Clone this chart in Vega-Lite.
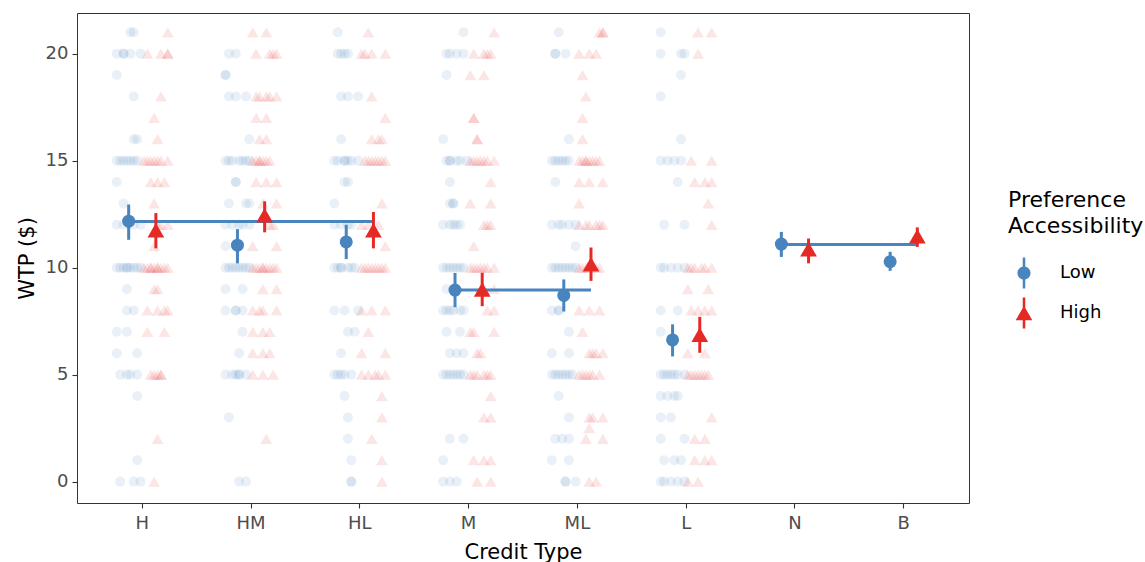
{
"$schema":"https://vega.github.io/schema/vega-lite/v6.json",
"width":892,"height":490,
"autosize":{"type":"none"},
"padding":{"left":77,"top":13,"right":176,"bottom":59},
"background":"white",
"config":{
"font":"DejaVu Sans",
"view":{"stroke":"#333333","strokeWidth":1},
"axis":{"grid":false,"domain":false,"tickColor":"#333333","tickSize":5,"tickWidth":1.1,"labelColor":"#4d4d4d","labelFontSize":18,"labelFont":"DejaVu Sans","titleFont":"DejaVu Sans","titleFontSize":21,"titleColor":"#000000","titleFontWeight":"normal"},
"legend":{"orient":"none","legendX":931,"legendY":177,"padding":0,"titleFont":"DejaVu Sans","titleFontSize":22,"titleFontWeight":"normal","titleColor":"#000000","titleLineHeight":26,"titlePadding":19,"labelFont":"DejaVu Sans","labelFontSize":18,"labelColor":"#000000","labelOffset":20,"symbolSize":1024,"symbolStrokeWidth":0,"symbolOpacity":1,"rowPadding":8}
},
"datasets":{
"raw":[
{"c":"H","p":"Low","w":21,"s":5},{"c":"H","p":"Low","w":21,"s":6},
{"c":"H","p":"Low","w":20,"s":1},{"c":"H","p":"Low","w":20,"s":3},{"c":"H","p":"Low","w":20,"s":3},{"c":"H","p":"Low","w":20,"s":5},{"c":"H","p":"Low","w":20,"s":8},
{"c":"H","p":"Low","w":19,"s":1},
{"c":"H","p":"Low","w":18,"s":6},
{"c":"H","p":"Low","w":16,"s":6},{"c":"H","p":"Low","w":16,"s":7},
{"c":"H","p":"Low","w":15,"s":1},{"c":"H","p":"Low","w":15,"s":2},{"c":"H","p":"Low","w":15,"s":3},{"c":"H","p":"Low","w":15,"s":4},{"c":"H","p":"Low","w":15,"s":5},{"c":"H","p":"Low","w":15,"s":6},{"c":"H","p":"Low","w":15,"s":7},
{"c":"H","p":"Low","w":14,"s":1},
{"c":"H","p":"Low","w":13,"s":3},
{"c":"H","p":"Low","w":12,"s":1},{"c":"H","p":"Low","w":12,"s":3},{"c":"H","p":"Low","w":12,"s":6},{"c":"H","p":"Low","w":12,"s":8},
{"c":"H","p":"Low","w":10,"s":1},{"c":"H","p":"Low","w":10,"s":2},{"c":"H","p":"Low","w":10,"s":3},{"c":"H","p":"Low","w":10,"s":4},{"c":"H","p":"Low","w":10,"s":4},{"c":"H","p":"Low","w":10,"s":5},{"c":"H","p":"Low","w":10,"s":6},{"c":"H","p":"Low","w":10,"s":7},{"c":"H","p":"Low","w":10,"s":8},
{"c":"H","p":"Low","w":9,"s":4},
{"c":"H","p":"Low","w":8,"s":4},{"c":"H","p":"Low","w":8,"s":6},
{"c":"H","p":"Low","w":7,"s":1},{"c":"H","p":"Low","w":7,"s":4},
{"c":"H","p":"Low","w":6,"s":1},{"c":"H","p":"Low","w":6,"s":7},
{"c":"H","p":"Low","w":5,"s":2},{"c":"H","p":"Low","w":5,"s":4},{"c":"H","p":"Low","w":5,"s":5},{"c":"H","p":"Low","w":5,"s":7},
{"c":"H","p":"Low","w":4,"s":7},
{"c":"H","p":"Low","w":1,"s":7},
{"c":"H","p":"Low","w":0,"s":2},{"c":"H","p":"Low","w":0,"s":6},{"c":"H","p":"Low","w":0,"s":8},
{"c":"H","p":"High","w":21,"s":16},
{"c":"H","p":"High","w":20,"s":10},{"c":"H","p":"High","w":20,"s":14},{"c":"H","p":"High","w":20,"s":16},{"c":"H","p":"High","w":20,"s":16},
{"c":"H","p":"High","w":18,"s":14},
{"c":"H","p":"High","w":17,"s":12},
{"c":"H","p":"High","w":16,"s":13},
{"c":"H","p":"High","w":15,"s":9},{"c":"H","p":"High","w":15,"s":10},{"c":"H","p":"High","w":15,"s":11},{"c":"H","p":"High","w":15,"s":12},{"c":"H","p":"High","w":15,"s":13},{"c":"H","p":"High","w":15,"s":14},{"c":"H","p":"High","w":15,"s":16},
{"c":"H","p":"High","w":14,"s":11},{"c":"H","p":"High","w":14,"s":13},{"c":"H","p":"High","w":14,"s":15},
{"c":"H","p":"High","w":13,"s":12},
{"c":"H","p":"High","w":12,"s":13},{"c":"H","p":"High","w":12,"s":14},{"c":"H","p":"High","w":12,"s":16},
{"c":"H","p":"High","w":11,"s":12},
{"c":"H","p":"High","w":10,"s":9},{"c":"H","p":"High","w":10,"s":10},{"c":"H","p":"High","w":10,"s":11},{"c":"H","p":"High","w":10,"s":11},{"c":"H","p":"High","w":10,"s":12},{"c":"H","p":"High","w":10,"s":13},{"c":"H","p":"High","w":10,"s":13},{"c":"H","p":"High","w":10,"s":14},{"c":"H","p":"High","w":10,"s":15},{"c":"H","p":"High","w":10,"s":16},
{"c":"H","p":"High","w":9,"s":12},{"c":"H","p":"High","w":9,"s":13},
{"c":"H","p":"High","w":8,"s":10},{"c":"H","p":"High","w":8,"s":13},{"c":"H","p":"High","w":8,"s":15},{"c":"H","p":"High","w":8,"s":16},
{"c":"H","p":"High","w":7,"s":10},{"c":"H","p":"High","w":7,"s":15},
{"c":"H","p":"High","w":5,"s":11},{"c":"H","p":"High","w":5,"s":12},{"c":"H","p":"High","w":5,"s":13},{"c":"H","p":"High","w":5,"s":14},{"c":"H","p":"High","w":5,"s":14},
{"c":"H","p":"High","w":2,"s":13},
{"c":"H","p":"High","w":0,"s":12},
{"c":"HM","p":"Low","w":20,"s":2},{"c":"HM","p":"Low","w":20,"s":4},
{"c":"HM","p":"Low","w":19,"s":1},{"c":"HM","p":"Low","w":19,"s":1},
{"c":"HM","p":"Low","w":18,"s":2},{"c":"HM","p":"Low","w":18,"s":4},{"c":"HM","p":"Low","w":18,"s":7},
{"c":"HM","p":"Low","w":16,"s":8},
{"c":"HM","p":"Low","w":15,"s":1},{"c":"HM","p":"Low","w":15,"s":2},{"c":"HM","p":"Low","w":15,"s":3},{"c":"HM","p":"Low","w":15,"s":5},{"c":"HM","p":"Low","w":15,"s":6},{"c":"HM","p":"Low","w":15,"s":7},{"c":"HM","p":"Low","w":15,"s":8},
{"c":"HM","p":"Low","w":14,"s":4},{"c":"HM","p":"Low","w":14,"s":4},
{"c":"HM","p":"Low","w":13,"s":2},{"c":"HM","p":"Low","w":13,"s":7},{"c":"HM","p":"Low","w":13,"s":8},
{"c":"HM","p":"Low","w":12,"s":1},{"c":"HM","p":"Low","w":12,"s":3},{"c":"HM","p":"Low","w":12,"s":5},{"c":"HM","p":"Low","w":12,"s":6},{"c":"HM","p":"Low","w":12,"s":8},
{"c":"HM","p":"Low","w":11,"s":1},
{"c":"HM","p":"Low","w":10,"s":1},{"c":"HM","p":"Low","w":10,"s":2},{"c":"HM","p":"Low","w":10,"s":3},{"c":"HM","p":"Low","w":10,"s":4},{"c":"HM","p":"Low","w":10,"s":5},{"c":"HM","p":"Low","w":10,"s":6},{"c":"HM","p":"Low","w":10,"s":7},{"c":"HM","p":"Low","w":10,"s":8},
{"c":"HM","p":"Low","w":9,"s":1},{"c":"HM","p":"Low","w":9,"s":6},
{"c":"HM","p":"Low","w":8,"s":1},{"c":"HM","p":"Low","w":8,"s":4},{"c":"HM","p":"Low","w":8,"s":4},{"c":"HM","p":"Low","w":8,"s":6},
{"c":"HM","p":"Low","w":7,"s":6},
{"c":"HM","p":"Low","w":6,"s":5},
{"c":"HM","p":"Low","w":5,"s":1},{"c":"HM","p":"Low","w":5,"s":3},{"c":"HM","p":"Low","w":5,"s":4},{"c":"HM","p":"Low","w":5,"s":5},{"c":"HM","p":"Low","w":5,"s":5},{"c":"HM","p":"Low","w":5,"s":7},
{"c":"HM","p":"Low","w":3,"s":2},
{"c":"HM","p":"Low","w":0,"s":5},{"c":"HM","p":"Low","w":0,"s":7},
{"c":"HM","p":"High","w":21,"s":9},{"c":"HM","p":"High","w":21,"s":13},
{"c":"HM","p":"High","w":20,"s":10},{"c":"HM","p":"High","w":20,"s":14},{"c":"HM","p":"High","w":20,"s":15},{"c":"HM","p":"High","w":20,"s":16},
{"c":"HM","p":"High","w":18,"s":10},{"c":"HM","p":"High","w":18,"s":11},{"c":"HM","p":"High","w":18,"s":13},{"c":"HM","p":"High","w":18,"s":14},{"c":"HM","p":"High","w":18,"s":16},
{"c":"HM","p":"High","w":17,"s":10},{"c":"HM","p":"High","w":17,"s":13},
{"c":"HM","p":"High","w":16,"s":11},{"c":"HM","p":"High","w":16,"s":13},
{"c":"HM","p":"High","w":15,"s":9},{"c":"HM","p":"High","w":15,"s":10},{"c":"HM","p":"High","w":15,"s":11},{"c":"HM","p":"High","w":15,"s":11},{"c":"HM","p":"High","w":15,"s":12},{"c":"HM","p":"High","w":15,"s":13},{"c":"HM","p":"High","w":15,"s":14},
{"c":"HM","p":"High","w":14,"s":10},{"c":"HM","p":"High","w":14,"s":13},{"c":"HM","p":"High","w":14,"s":16},
{"c":"HM","p":"High","w":13,"s":12},{"c":"HM","p":"High","w":13,"s":16},
{"c":"HM","p":"High","w":12,"s":14},{"c":"HM","p":"High","w":12,"s":15},
{"c":"HM","p":"High","w":11,"s":9},{"c":"HM","p":"High","w":11,"s":16},
{"c":"HM","p":"High","w":10,"s":9},{"c":"HM","p":"High","w":10,"s":10},{"c":"HM","p":"High","w":10,"s":11},{"c":"HM","p":"High","w":10,"s":12},{"c":"HM","p":"High","w":10,"s":12},{"c":"HM","p":"High","w":10,"s":13},{"c":"HM","p":"High","w":10,"s":14},{"c":"HM","p":"High","w":10,"s":15},{"c":"HM","p":"High","w":10,"s":16},
{"c":"HM","p":"High","w":9,"s":12},{"c":"HM","p":"High","w":9,"s":16},
{"c":"HM","p":"High","w":8,"s":9},{"c":"HM","p":"High","w":8,"s":11},{"c":"HM","p":"High","w":8,"s":12},{"c":"HM","p":"High","w":8,"s":16},
{"c":"HM","p":"High","w":7,"s":9},{"c":"HM","p":"High","w":7,"s":12},{"c":"HM","p":"High","w":7,"s":14},
{"c":"HM","p":"High","w":6,"s":9},{"c":"HM","p":"High","w":6,"s":12},{"c":"HM","p":"High","w":6,"s":14},
{"c":"HM","p":"High","w":5,"s":9},{"c":"HM","p":"High","w":5,"s":12},{"c":"HM","p":"High","w":5,"s":15},
{"c":"HM","p":"High","w":2,"s":13},
{"c":"HL","p":"Low","w":21,"s":2},
{"c":"HL","p":"Low","w":20,"s":2},{"c":"HL","p":"Low","w":20,"s":3},{"c":"HL","p":"Low","w":20,"s":4},{"c":"HL","p":"Low","w":20,"s":5},
{"c":"HL","p":"Low","w":18,"s":3},{"c":"HL","p":"Low","w":18,"s":5},{"c":"HL","p":"Low","w":18,"s":8},
{"c":"HL","p":"Low","w":16,"s":3},
{"c":"HL","p":"Low","w":15,"s":1},{"c":"HL","p":"Low","w":15,"s":2},{"c":"HL","p":"Low","w":15,"s":4},{"c":"HL","p":"Low","w":15,"s":4},{"c":"HL","p":"Low","w":15,"s":5},{"c":"HL","p":"Low","w":15,"s":6},{"c":"HL","p":"Low","w":15,"s":8},
{"c":"HL","p":"Low","w":14,"s":4},{"c":"HL","p":"Low","w":14,"s":5},
{"c":"HL","p":"Low","w":13,"s":1},
{"c":"HL","p":"Low","w":12,"s":1},{"c":"HL","p":"Low","w":12,"s":3},{"c":"HL","p":"Low","w":12,"s":5},{"c":"HL","p":"Low","w":12,"s":6},
{"c":"HL","p":"Low","w":10,"s":1},{"c":"HL","p":"Low","w":10,"s":2},{"c":"HL","p":"Low","w":10,"s":3},{"c":"HL","p":"Low","w":10,"s":3},{"c":"HL","p":"Low","w":10,"s":5},{"c":"HL","p":"Low","w":10,"s":6},{"c":"HL","p":"Low","w":10,"s":7},
{"c":"HL","p":"Low","w":8,"s":1},{"c":"HL","p":"Low","w":8,"s":4},{"c":"HL","p":"Low","w":8,"s":8},
{"c":"HL","p":"Low","w":7,"s":5},{"c":"HL","p":"Low","w":7,"s":7},
{"c":"HL","p":"Low","w":6,"s":3},
{"c":"HL","p":"Low","w":5,"s":1},{"c":"HL","p":"Low","w":5,"s":2},{"c":"HL","p":"Low","w":5,"s":3},{"c":"HL","p":"Low","w":5,"s":4},{"c":"HL","p":"Low","w":5,"s":6},
{"c":"HL","p":"Low","w":4,"s":4},
{"c":"HL","p":"Low","w":3,"s":5},
{"c":"HL","p":"Low","w":2,"s":5},
{"c":"HL","p":"Low","w":1,"s":6},
{"c":"HL","p":"Low","w":0,"s":6},{"c":"HL","p":"Low","w":0,"s":6},
{"c":"HL","p":"High","w":21,"s":11},
{"c":"HL","p":"High","w":20,"s":9},{"c":"HL","p":"High","w":20,"s":10},{"c":"HL","p":"High","w":20,"s":12},{"c":"HL","p":"High","w":20,"s":16},
{"c":"HL","p":"High","w":18,"s":12},
{"c":"HL","p":"High","w":17,"s":16},
{"c":"HL","p":"High","w":16,"s":12},{"c":"HL","p":"High","w":16,"s":14},{"c":"HL","p":"High","w":16,"s":15},
{"c":"HL","p":"High","w":15,"s":10},{"c":"HL","p":"High","w":15,"s":11},{"c":"HL","p":"High","w":15,"s":12},{"c":"HL","p":"High","w":15,"s":13},{"c":"HL","p":"High","w":15,"s":14},{"c":"HL","p":"High","w":15,"s":15},{"c":"HL","p":"High","w":15,"s":16},
{"c":"HL","p":"High","w":13,"s":15},
{"c":"HL","p":"High","w":12,"s":9},{"c":"HL","p":"High","w":12,"s":11},{"c":"HL","p":"High","w":12,"s":14},
{"c":"HL","p":"High","w":11,"s":16},
{"c":"HL","p":"High","w":10,"s":9},{"c":"HL","p":"High","w":10,"s":10},{"c":"HL","p":"High","w":10,"s":11},{"c":"HL","p":"High","w":10,"s":12},{"c":"HL","p":"High","w":10,"s":13},{"c":"HL","p":"High","w":10,"s":14},{"c":"HL","p":"High","w":10,"s":15},{"c":"HL","p":"High","w":10,"s":16},
{"c":"HL","p":"High","w":8,"s":9},{"c":"HL","p":"High","w":8,"s":12},{"c":"HL","p":"High","w":8,"s":16},
{"c":"HL","p":"High","w":7,"s":11},
{"c":"HL","p":"High","w":6,"s":9},{"c":"HL","p":"High","w":6,"s":16},
{"c":"HL","p":"High","w":5,"s":9},{"c":"HL","p":"High","w":5,"s":11},{"c":"HL","p":"High","w":5,"s":13},{"c":"HL","p":"High","w":5,"s":14},{"c":"HL","p":"High","w":5,"s":16},
{"c":"HL","p":"High","w":4,"s":15},
{"c":"HL","p":"High","w":3,"s":15},
{"c":"HL","p":"High","w":2,"s":12},
{"c":"HL","p":"High","w":1,"s":15},
{"c":"HL","p":"High","w":0,"s":15},
{"c":"M","p":"Low","w":21,"s":7},
{"c":"M","p":"Low","w":20,"s":2},{"c":"M","p":"Low","w":20,"s":3},{"c":"M","p":"Low","w":20,"s":5},{"c":"M","p":"Low","w":20,"s":7},
{"c":"M","p":"Low","w":19,"s":2},
{"c":"M","p":"Low","w":16,"s":1},
{"c":"M","p":"Low","w":15,"s":2},{"c":"M","p":"Low","w":15,"s":3},{"c":"M","p":"Low","w":15,"s":3},{"c":"M","p":"Low","w":15,"s":5},{"c":"M","p":"Low","w":15,"s":6},{"c":"M","p":"Low","w":15,"s":8},
{"c":"M","p":"Low","w":14,"s":3},
{"c":"M","p":"Low","w":13,"s":3},{"c":"M","p":"Low","w":13,"s":4},{"c":"M","p":"Low","w":13,"s":4},
{"c":"M","p":"Low","w":12,"s":1},{"c":"M","p":"Low","w":12,"s":3},{"c":"M","p":"Low","w":12,"s":4},{"c":"M","p":"Low","w":12,"s":5},{"c":"M","p":"Low","w":12,"s":6},
{"c":"M","p":"Low","w":10,"s":1},{"c":"M","p":"Low","w":10,"s":2},{"c":"M","p":"Low","w":10,"s":3},{"c":"M","p":"Low","w":10,"s":4},{"c":"M","p":"Low","w":10,"s":5},{"c":"M","p":"Low","w":10,"s":6},{"c":"M","p":"Low","w":10,"s":7},
{"c":"M","p":"Low","w":9,"s":2},{"c":"M","p":"Low","w":9,"s":4},
{"c":"M","p":"Low","w":8,"s":1},{"c":"M","p":"Low","w":8,"s":2},{"c":"M","p":"Low","w":8,"s":3},{"c":"M","p":"Low","w":8,"s":4},{"c":"M","p":"Low","w":8,"s":6},{"c":"M","p":"Low","w":8,"s":7},
{"c":"M","p":"Low","w":7,"s":2},{"c":"M","p":"Low","w":7,"s":6},
{"c":"M","p":"Low","w":6,"s":3},{"c":"M","p":"Low","w":6,"s":5},{"c":"M","p":"Low","w":6,"s":7},
{"c":"M","p":"Low","w":5,"s":1},{"c":"M","p":"Low","w":5,"s":2},{"c":"M","p":"Low","w":5,"s":3},{"c":"M","p":"Low","w":5,"s":4},{"c":"M","p":"Low","w":5,"s":5},{"c":"M","p":"Low","w":5,"s":6},{"c":"M","p":"Low","w":5,"s":7},
{"c":"M","p":"Low","w":2,"s":3},{"c":"M","p":"Low","w":2,"s":7},
{"c":"M","p":"Low","w":1,"s":1},
{"c":"M","p":"Low","w":0,"s":1},{"c":"M","p":"Low","w":0,"s":3},{"c":"M","p":"Low","w":0,"s":5},
{"c":"M","p":"High","w":21,"s":16},
{"c":"M","p":"High","w":20,"s":10},{"c":"M","p":"High","w":20,"s":13},{"c":"M","p":"High","w":20,"s":14},{"c":"M","p":"High","w":20,"s":15},
{"c":"M","p":"High","w":19,"s":9},{"c":"M","p":"High","w":19,"s":13},
{"c":"M","p":"High","w":17,"s":10},{"c":"M","p":"High","w":17,"s":10},
{"c":"M","p":"High","w":16,"s":11},{"c":"M","p":"High","w":16,"s":11},
{"c":"M","p":"High","w":15,"s":9},{"c":"M","p":"High","w":15,"s":10},{"c":"M","p":"High","w":15,"s":11},{"c":"M","p":"High","w":15,"s":12},{"c":"M","p":"High","w":15,"s":13},{"c":"M","p":"High","w":15,"s":14},{"c":"M","p":"High","w":15,"s":16},
{"c":"M","p":"High","w":14,"s":15},
{"c":"M","p":"High","w":13,"s":9},{"c":"M","p":"High","w":13,"s":15},
{"c":"M","p":"High","w":12,"s":13},{"c":"M","p":"High","w":12,"s":14},{"c":"M","p":"High","w":12,"s":15},
{"c":"M","p":"High","w":11,"s":10},
{"c":"M","p":"High","w":10,"s":9},{"c":"M","p":"High","w":10,"s":10},{"c":"M","p":"High","w":10,"s":11},{"c":"M","p":"High","w":10,"s":12},{"c":"M","p":"High","w":10,"s":13},{"c":"M","p":"High","w":10,"s":14},{"c":"M","p":"High","w":10,"s":16},
{"c":"M","p":"High","w":9,"s":13},{"c":"M","p":"High","w":9,"s":16},
{"c":"M","p":"High","w":8,"s":14},{"c":"M","p":"High","w":8,"s":16},
{"c":"M","p":"High","w":7,"s":9},{"c":"M","p":"High","w":7,"s":10},{"c":"M","p":"High","w":7,"s":16},
{"c":"M","p":"High","w":6,"s":11},{"c":"M","p":"High","w":6,"s":12},
{"c":"M","p":"High","w":5,"s":9},{"c":"M","p":"High","w":5,"s":10},{"c":"M","p":"High","w":5,"s":11},{"c":"M","p":"High","w":5,"s":13},{"c":"M","p":"High","w":5,"s":14},{"c":"M","p":"High","w":5,"s":15},
{"c":"M","p":"High","w":4,"s":15},
{"c":"M","p":"High","w":3,"s":13},{"c":"M","p":"High","w":3,"s":15},
{"c":"M","p":"High","w":1,"s":10},{"c":"M","p":"High","w":1,"s":13},{"c":"M","p":"High","w":1,"s":15},
{"c":"M","p":"High","w":0,"s":11},{"c":"M","p":"High","w":0,"s":15},
{"c":"ML","p":"Low","w":21,"s":3},
{"c":"ML","p":"Low","w":20,"s":2},{"c":"ML","p":"Low","w":20,"s":2},{"c":"ML","p":"Low","w":20,"s":5},
{"c":"ML","p":"Low","w":16,"s":6},
{"c":"ML","p":"Low","w":15,"s":1},{"c":"ML","p":"Low","w":15,"s":2},{"c":"ML","p":"Low","w":15,"s":3},{"c":"ML","p":"Low","w":15,"s":4},{"c":"ML","p":"Low","w":15,"s":5},{"c":"ML","p":"Low","w":15,"s":6},
{"c":"ML","p":"Low","w":14,"s":2},
{"c":"ML","p":"Low","w":12,"s":1},{"c":"ML","p":"Low","w":12,"s":3},{"c":"ML","p":"Low","w":12,"s":4},{"c":"ML","p":"Low","w":12,"s":6},{"c":"ML","p":"Low","w":12,"s":8},
{"c":"ML","p":"Low","w":11,"s":8},
{"c":"ML","p":"Low","w":10,"s":1},{"c":"ML","p":"Low","w":10,"s":2},{"c":"ML","p":"Low","w":10,"s":3},{"c":"ML","p":"Low","w":10,"s":4},{"c":"ML","p":"Low","w":10,"s":5},{"c":"ML","p":"Low","w":10,"s":6},{"c":"ML","p":"Low","w":10,"s":7},{"c":"ML","p":"Low","w":10,"s":8},
{"c":"ML","p":"Low","w":8,"s":1},{"c":"ML","p":"Low","w":8,"s":3},{"c":"ML","p":"Low","w":8,"s":3},
{"c":"ML","p":"Low","w":7,"s":6},
{"c":"ML","p":"Low","w":6,"s":1},{"c":"ML","p":"Low","w":6,"s":6},
{"c":"ML","p":"Low","w":5,"s":1},{"c":"ML","p":"Low","w":5,"s":2},{"c":"ML","p":"Low","w":5,"s":3},{"c":"ML","p":"Low","w":5,"s":4},{"c":"ML","p":"Low","w":5,"s":5},{"c":"ML","p":"Low","w":5,"s":6},{"c":"ML","p":"Low","w":5,"s":7},
{"c":"ML","p":"Low","w":4,"s":3},
{"c":"ML","p":"Low","w":3,"s":6},
{"c":"ML","p":"Low","w":2,"s":2},{"c":"ML","p":"Low","w":2,"s":4},{"c":"ML","p":"Low","w":2,"s":6},
{"c":"ML","p":"Low","w":1,"s":1},{"c":"ML","p":"Low","w":1,"s":6},
{"c":"ML","p":"Low","w":0,"s":5},{"c":"ML","p":"Low","w":0,"s":5},{"c":"ML","p":"Low","w":0,"s":8},
{"c":"ML","p":"High","w":21,"s":15},{"c":"ML","p":"High","w":21,"s":16},{"c":"ML","p":"High","w":21,"s":16},
{"c":"ML","p":"High","w":20,"s":9},{"c":"ML","p":"High","w":20,"s":12},{"c":"ML","p":"High","w":20,"s":14},
{"c":"ML","p":"High","w":19,"s":10},
{"c":"ML","p":"High","w":18,"s":11},
{"c":"ML","p":"High","w":17,"s":10},
{"c":"ML","p":"High","w":16,"s":10},
{"c":"ML","p":"High","w":15,"s":9},{"c":"ML","p":"High","w":15,"s":10},{"c":"ML","p":"High","w":15,"s":11},{"c":"ML","p":"High","w":15,"s":11},{"c":"ML","p":"High","w":15,"s":12},{"c":"ML","p":"High","w":15,"s":13},{"c":"ML","p":"High","w":15,"s":14},{"c":"ML","p":"High","w":15,"s":15},
{"c":"ML","p":"High","w":14,"s":9},{"c":"ML","p":"High","w":14,"s":12},{"c":"ML","p":"High","w":14,"s":16},
{"c":"ML","p":"High","w":13,"s":9},
{"c":"ML","p":"High","w":12,"s":9},{"c":"ML","p":"High","w":12,"s":11},{"c":"ML","p":"High","w":12,"s":12},{"c":"ML","p":"High","w":12,"s":14},{"c":"ML","p":"High","w":12,"s":15},{"c":"ML","p":"High","w":12,"s":16},
{"c":"ML","p":"High","w":10,"s":9},{"c":"ML","p":"High","w":10,"s":10},{"c":"ML","p":"High","w":10,"s":11},{"c":"ML","p":"High","w":10,"s":12},{"c":"ML","p":"High","w":10,"s":14},{"c":"ML","p":"High","w":10,"s":15},
{"c":"ML","p":"High","w":8,"s":9},{"c":"ML","p":"High","w":8,"s":12},{"c":"ML","p":"High","w":8,"s":15},
{"c":"ML","p":"High","w":7,"s":10},
{"c":"ML","p":"High","w":6,"s":12},{"c":"ML","p":"High","w":6,"s":13},{"c":"ML","p":"High","w":6,"s":14},{"c":"ML","p":"High","w":6,"s":16},
{"c":"ML","p":"High","w":5,"s":9},{"c":"ML","p":"High","w":5,"s":10},{"c":"ML","p":"High","w":5,"s":11},{"c":"ML","p":"High","w":5,"s":12},{"c":"ML","p":"High","w":5,"s":13},{"c":"ML","p":"High","w":5,"s":15},
{"c":"ML","p":"High","w":3,"s":12},{"c":"ML","p":"High","w":3,"s":13},{"c":"ML","p":"High","w":3,"s":16},
{"c":"ML","p":"High","w":2.5,"s":12},
{"c":"ML","p":"High","w":2,"s":11},{"c":"ML","p":"High","w":2,"s":16},
{"c":"ML","p":"High","w":0,"s":12},{"c":"ML","p":"High","w":0,"s":14},
{"c":"L","p":"Low","w":21,"s":1},
{"c":"L","p":"Low","w":20,"s":1},{"c":"L","p":"Low","w":20,"s":7},{"c":"L","p":"Low","w":20,"s":8},
{"c":"L","p":"Low","w":19,"s":7},
{"c":"L","p":"Low","w":18,"s":1},
{"c":"L","p":"Low","w":16,"s":7},
{"c":"L","p":"Low","w":15,"s":1},{"c":"L","p":"Low","w":15,"s":3},{"c":"L","p":"Low","w":15,"s":5},{"c":"L","p":"Low","w":15,"s":7},
{"c":"L","p":"Low","w":14,"s":6},
{"c":"L","p":"Low","w":12,"s":2},{"c":"L","p":"Low","w":12,"s":8},
{"c":"L","p":"Low","w":10,"s":1},{"c":"L","p":"Low","w":10,"s":2},{"c":"L","p":"Low","w":10,"s":4},{"c":"L","p":"Low","w":10,"s":6},{"c":"L","p":"Low","w":10,"s":8},
{"c":"L","p":"Low","w":8,"s":1},{"c":"L","p":"Low","w":8,"s":6},
{"c":"L","p":"Low","w":7,"s":1},
{"c":"L","p":"Low","w":5,"s":1},{"c":"L","p":"Low","w":5,"s":2},{"c":"L","p":"Low","w":5,"s":3},{"c":"L","p":"Low","w":5,"s":4},{"c":"L","p":"Low","w":5,"s":5},{"c":"L","p":"Low","w":5,"s":6},{"c":"L","p":"Low","w":5,"s":8},
{"c":"L","p":"Low","w":4,"s":1},{"c":"L","p":"Low","w":4,"s":3},{"c":"L","p":"Low","w":4,"s":5},{"c":"L","p":"Low","w":4,"s":6},
{"c":"L","p":"Low","w":3,"s":1},{"c":"L","p":"Low","w":3,"s":4},
{"c":"L","p":"Low","w":2,"s":1},{"c":"L","p":"Low","w":2,"s":8},
{"c":"L","p":"Low","w":1,"s":2},{"c":"L","p":"Low","w":1,"s":5},{"c":"L","p":"Low","w":1,"s":7},
{"c":"L","p":"Low","w":0,"s":1},{"c":"L","p":"Low","w":0,"s":2},{"c":"L","p":"Low","w":0,"s":4},{"c":"L","p":"Low","w":0,"s":6},{"c":"L","p":"Low","w":0,"s":8},
{"c":"L","p":"High","w":21,"s":12},{"c":"L","p":"High","w":21,"s":16},
{"c":"L","p":"High","w":20,"s":12},
{"c":"L","p":"High","w":15,"s":10},{"c":"L","p":"High","w":15,"s":16},
{"c":"L","p":"High","w":14,"s":11},{"c":"L","p":"High","w":14,"s":14},{"c":"L","p":"High","w":14,"s":16},
{"c":"L","p":"High","w":13,"s":15},
{"c":"L","p":"High","w":12,"s":16},
{"c":"L","p":"High","w":10,"s":9},{"c":"L","p":"High","w":10,"s":10},{"c":"L","p":"High","w":10,"s":11},{"c":"L","p":"High","w":10,"s":13},{"c":"L","p":"High","w":10,"s":14},{"c":"L","p":"High","w":10,"s":16},
{"c":"L","p":"High","w":9,"s":9},{"c":"L","p":"High","w":9,"s":15},
{"c":"L","p":"High","w":8,"s":10},{"c":"L","p":"High","w":8,"s":12},{"c":"L","p":"High","w":8,"s":14},{"c":"L","p":"High","w":8,"s":16},
{"c":"L","p":"High","w":6,"s":9},{"c":"L","p":"High","w":6,"s":14},
{"c":"L","p":"High","w":5,"s":9},{"c":"L","p":"High","w":5,"s":10},{"c":"L","p":"High","w":5,"s":11},{"c":"L","p":"High","w":5,"s":12},{"c":"L","p":"High","w":5,"s":13},{"c":"L","p":"High","w":5,"s":14},{"c":"L","p":"High","w":5,"s":15},
{"c":"L","p":"High","w":3,"s":16},
{"c":"L","p":"High","w":2,"s":11},{"c":"L","p":"High","w":2,"s":14},
{"c":"L","p":"High","w":1,"s":11},{"c":"L","p":"High","w":1,"s":14},{"c":"L","p":"High","w":1,"s":16},
{"c":"L","p":"High","w":0,"s":9},{"c":"L","p":"High","w":0,"s":12}
],
"means":[
{"c":"H","p":"Low","m":12.17,"lo":11.3,"hi":12.95},
{"c":"H","p":"High","m":11.75,"lo":10.9,"hi":12.55},
{"c":"HM","p":"Low","m":11.05,"lo":10.2,"hi":11.8},
{"c":"HM","p":"High","m":12.45,"lo":11.65,"hi":13.1},
{"c":"HL","p":"Low","m":11.2,"lo":10.4,"hi":12.0},
{"c":"HL","p":"High","m":11.75,"lo":10.9,"hi":12.6},
{"c":"M","p":"Low","m":8.95,"lo":8.15,"hi":9.75},
{"c":"M","p":"High","m":8.98,"lo":8.2,"hi":9.76},
{"c":"ML","p":"Low","m":8.7,"lo":7.95,"hi":9.45},
{"c":"ML","p":"High","m":10.16,"lo":9.38,"hi":10.94},
{"c":"L","p":"Low","m":6.62,"lo":5.85,"hi":7.35},
{"c":"L","p":"High","m":6.86,"lo":6.02,"hi":7.7},
{"c":"N","p":"Low","m":11.1,"lo":10.5,"hi":11.67},
{"c":"N","p":"High","m":10.86,"lo":10.2,"hi":11.36},
{"c":"B","p":"Low","m":10.28,"lo":9.85,"hi":10.74},
{"c":"B","p":"High","m":11.47,"lo":10.97,"hi":11.88}
],
"lines":[
{"g":"A","c":"H","p":"Low","m":12.15},{"g":"A","c":"HL","p":"High","m":12.15},
{"g":"B","c":"M","p":"Low","m":8.95},{"g":"B","c":"ML","p":"High","m":8.95},
{"g":"C","c":"N","p":"Low","m":11.08},{"g":"C","c":"B","p":"High","m":11.08}
]
},
"encoding":{
"x":{"field":"c","type":"nominal","scale":{"domain":["H","HM","HL","M","ML","L","N","B"],"paddingInner":0.5,"paddingOuter":0.35},"axis":{"title":"Credit Type","labelAngle":0,"labelPadding":6,"titlePadding":9}}
},
"layer":[
{
"data":{"name":"raw"},
"mark":{"type":"point","filled":true,"opacity":0.12,"strokeWidth":0},
"encoding":{
"y":{"field":"w","type":"quantitative","scale":{"domain":[-1,21.9],"nice":false,"zero":false},"axis":{"title":"WTP ($)","values":[0,5,10,15,20],"labelPadding":4,"titlePadding":8}},
"xOffset":{"field":"s","type":"ordinal","scale":{"type":"point","domain":[1,2,3,4,5,6,7,8,9,10,11,12,13,14,15,16],"padding":0.5}},
"color":{"field":"p","type":"nominal","scale":{"domain":["Low","High"],"range":["#4884bd","#e52a26"]},"legend":null},
"shape":{"field":"p","type":"nominal","scale":{"domain":["Low","High"],"range":["circle","triangle-up"]},"legend":null},
"size":{"field":"p","type":"ordinal","scale":{"domain":["Low","High"],"range":[100,140]},"legend":null}
}
},
{
"data":{"name":"lines"},
"mark":{"type":"line","color":"#4884bd","strokeWidth":3},
"encoding":{
"y":{"field":"m","type":"quantitative","scale":{"domain":[-1,21.9],"nice":false,"zero":false},"axis":{"title":"WTP ($)","values":[0,5,10,15,20],"labelPadding":4,"titlePadding":8}},
"xOffset":{"field":"p","type":"nominal","scale":{"type":"point","domain":["Low","High"],"padding":0.5}},
"detail":{"field":"g","type":"nominal"}
}
},
{
"data":{"name":"means"},
"mark":{"type":"rule","strokeWidth":3},
"encoding":{
"y":{"field":"lo","type":"quantitative","scale":{"domain":[-1,21.9],"nice":false,"zero":false},"axis":{"title":"WTP ($)","values":[0,5,10,15,20],"labelPadding":4,"titlePadding":8}},
"y2":{"field":"hi"},
"xOffset":{"field":"p","type":"nominal","scale":{"type":"point","domain":["Low","High"],"padding":0.5}},
"color":{"field":"p","type":"nominal","scale":{"domain":["Low","High"],"range":["#4884bd","#e52a26"]},"legend":null}
}
},
{
"data":{"name":"means"},
"mark":{"type":"point","filled":true,"opacity":1,"strokeWidth":0},
"encoding":{
"y":{"field":"m","type":"quantitative","scale":{"domain":[-1,21.9],"nice":false,"zero":false},"axis":{"title":"WTP ($)","values":[0,5,10,15,20],"labelPadding":4,"titlePadding":8}},
"xOffset":{"field":"p","type":"nominal","scale":{"type":"point","domain":["Low","High"],"padding":0.5}},
"color":{"field":"p","type":"nominal","scale":{"domain":["Low","High"],"range":["#4884bd","#e52a26"]},"legend":null},
"shape":{"field":"p","type":"nominal","scale":{"domain":["Low","High"],"range":["circle","triangle-up"]},"legend":null},
"size":{"field":"p","type":"ordinal","scale":{"domain":["Low","High"],"range":[169,280]},"legend":null}
}
},
{
"data":{"name":"means"},
"mark":{"type":"point","filled":true,"opacity":0,"size":1024,"strokeWidth":0},
"encoding":{
"y":{"field":"m","type":"quantitative","scale":{"domain":[-1,21.9],"nice":false,"zero":false},"axis":{"title":"WTP ($)","values":[0,5,10,15,20],"labelPadding":4,"titlePadding":8}},
"color":{"field":"p","type":"nominal","scale":{"domain":["Low","High"],"range":["#4884bd","#e52a26"]},"title":["Preference","Accessibility"]},
"shape":{"field":"p","type":"nominal","scale":{"domain":["Low","High"],"range":["M-0.41,0A0.41,0.41,0,1,1,0.41,0A0.41,0.41,0,1,1,-0.41,0ZM-0.08,-0.97L0.08,-0.97L0.08,0.97L-0.08,0.97Z","M0,-0.45L0.52,0.45L-0.52,0.45ZM-0.08,-0.97L0.08,-0.97L0.08,0.97L-0.08,0.97Z"]},"title":["Preference","Accessibility"]}
}
}
],
"resolve":{"scale":{"xOffset":"independent","color":"independent","shape":"independent","size":"independent"}}
}
